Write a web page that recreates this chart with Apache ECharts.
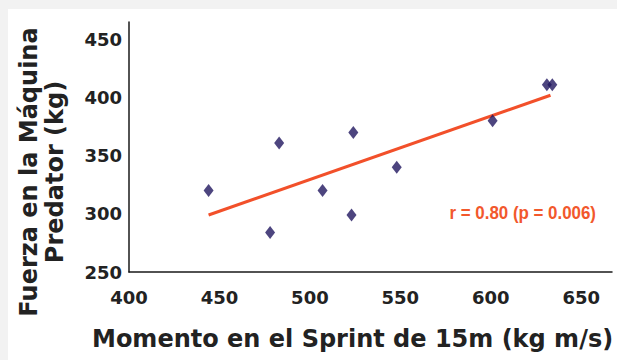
<!DOCTYPE html>
<html>
<head>
<meta charset="utf-8">
<script src="https://cdn.jsdelivr.net/npm/echarts@6/dist/echarts.min.js"></script>
<style>
html,body{margin:0;padding:0;background:#f2f2f2;}
#chart{width:617px;height:360px;}
</style>
</head>
<body>
<div id="chart"></div>
<script>
// Data
var momentum = [444, 483, 524, 507, 523, 478, 548, 601, 631, 634];
var force    = [320, 361, 370, 320, 299, 284, 340, 380, 411, 411];
var trendX   = [444, 633];
var trendY   = [299, 402];
var xTicks   = [400, 450, 500, 550, 600, 650];
var yTicks   = [250, 300, 350, 400, 450];
var xTitle   = 'Momento en el Sprint de 15m (kg m/s)';
var yTitle1  = 'Fuerza en la Máquina';
var yTitle2  = 'Predator (kg)';
var annot    = 'r = 0.80 (p = 0.006)';

var points = momentum.map(function (x, i) { return [x, force[i]]; });
var trend = trendX.map(function (x, i) { return [x, trendY[i]]; });

var chart = echarts.init(document.getElementById('chart'), null, {renderer: 'svg'});
var labelFont = {fontFamily: 'DejaVu Sans', fontWeight: 'bold', fontSize: 18, color: '#222'};

chart.setOption({
  backgroundColor: '#f2f2f2',
  animation: false,
  grid: {left: 129, top: 22, right: 5, bottom: 88},
  xAxis: {
    type: 'value', min: xTicks[0], max: 667, interval: 50,
    axisLine: {show: true, lineStyle: {color: '#1a1a1a', width: 1.5}},
    axisTick: {show: false},
    splitLine: {show: false},
    axisLabel: Object.assign({margin: 16, showMaxLabel: false,
      formatter: function (v) { return xTicks.indexOf(v) >= 0 ? String(v) : ''; }}, labelFont)
  },
  yAxis: {
    type: 'value', min: yTicks[0], max: 465, interval: 50,
    axisLine: {show: true, lineStyle: {color: '#1a1a1a', width: 1.5}},
    axisTick: {show: false},
    splitLine: {show: false},
    axisLabel: Object.assign({margin: 7, showMaxLabel: false,
      formatter: function (v) { return yTicks.indexOf(v) >= 0 ? String(v) : ''; }}, labelFont)
  },
  series: [
    {
      type: 'line', data: trend, showSymbol: false, silent: true,
      lineStyle: {color: '#f2502a', width: 3}, z: 2
    },
    {
      type: 'scatter', data: points, symbol: 'diamond', symbolSize: [10, 13],
      itemStyle: {color: '#21165f'}, z: 3
    }
  ],
  graphic: [
    {type: 'rect', left: 8, top: 9, z: -10, silent: true,
     shape: {x: 0, y: 0, width: 609, height: 351}, style: {fill: '#ffffff'}},
    {type: 'text', x: 92, y: 339, silent: true,
     style: {text: xTitle, fontFamily: 'DejaVu Sans', fontWeight: 'bold', fontSize: 24,
             fill: '#222', align: 'left', verticalAlign: 'middle'}},
    {type: 'text', x: 42, y: 172, rotation: Math.PI / 2, silent: true,
     style: {text: yTitle1 + '\n' + yTitle2, fontFamily: 'DejaVu Sans', fontWeight: 'bold', fontSize: 24,
             lineHeight: 26, fill: '#222', align: 'center', verticalAlign: 'middle'}},
    {type: 'text', x: 596, y: 213, scaleX: 0.89, silent: true,
     style: {text: annot, fontFamily: 'Liberation Sans', fontWeight: 'bold', fontSize: 19,
             fill: '#f2582c', align: 'right', verticalAlign: 'middle'}}
  ]
});
</script>
</body>
</html>
